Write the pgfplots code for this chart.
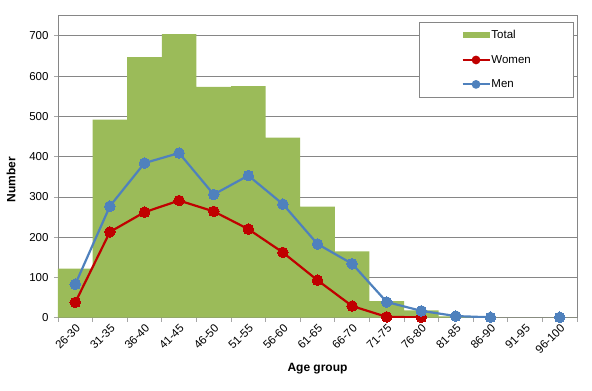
\documentclass[border=0pt]{standalone}
\usepackage{fontspec}
\setmainfont{Liberation Sans}
\usepackage{pgfplots}
\pgfplotsset{compat=1.18}
\definecolor{cgreen}{HTML}{9BBB59}
\definecolor{cred}{HTML}{C00000}
\definecolor{cblue}{HTML}{4F81BD}
\definecolor{cgrid}{HTML}{868686}
\definecolor{caxis}{HTML}{A6A6A6}
\pgfplotsset{
  barlegend/.style={legend image code/.code={\fill[cgreen] (0pt,-3pt) rectangle (27pt,3pt);}},
  linelegend/.style={legend image code/.code={\draw[##1, line width=1.8pt] (0pt,0pt) -- (27pt,0pt); \fill[##1] (13.5pt,0pt) circle (3.2pt);}},
}
\begin{document}
\begin{tikzpicture}
\begin{axis}[
  at={(0,0)}, anchor=south west,
  scale only axis, width=519pt, height=302pt,
  xmin=-0.5, xmax=14.5, ymin=0, ymax=750,
  ytick={0,100,...,700},
  xtick={0,...,14},
  xticklabels={26-30,31-35,36-40,41-45,46-50,51-55,56-60,61-65,66-70,71-75,76-80,81-85,86-90,91-95,96-100},
  minor xtick={-0.5,0.5,...,14.5},
  major x tick style={draw=none},
  minor x tick style={draw=caxis, line width=0.8pt},
  major y tick style={draw=caxis, line width=0.8pt},
  tick align=outside, tick pos=left,
  major tick length=4pt, minor tick length=4pt,
  ymajorgrids, grid style={draw=cgrid, line width=0.8pt},
  axis line style={draw=cgrid, line width=0.8pt},
  /pgf/number format/assume math mode=true,
  tick label style={font=\fontsize{11.5}{13}\selectfont},
  xticklabel style={rotate=45, anchor=north east, inner sep=1pt},
  yticklabel style={xshift=-2pt},
  xlabel={\textbf{Age group}}, ylabel={\textbf{Number}},
  label style={font=\fontsize{12}{14}\selectfont},
  xlabel style={at={(axis description cs:0.5,-0.170)}, anchor=center},
  ylabel style={at={(axis description cs:-0.0906,0.456)}, anchor=center},
  unbounded coords=jump,
  legend style={at={(0.696,0.979)}, anchor=north west, draw=cgrid, line width=0.8pt,
    font=\fontsize{11.5}{13}\selectfont, inner xsep=42pt, inner ysep=7pt,
    row sep=13pt, nodes={inner sep=1pt}},
  legend cell align=left,
]
\addplot[ybar, bar width=1, bar shift=0pt, fill=cgreen, draw=none, barlegend]
  coordinates {(0,122) (1,492) (2,647) (3,704) (4,573) (5,575) (6,447) (7,276) (8,165) (9,41) (10,18) (11,3) (12,0) (13,0) (14,0)};
\addlegendentry{Total}
\addplot[cred, line width=2.2pt, mark=*, mark size=5.3pt, mark options={fill=cred, draw=cred, line width=0pt}, linelegend]
  coordinates {(0,38) (1,213) (2,262) (3,291) (4,264) (5,220) (6,162) (7,93) (8,29) (9,2) (10,1)};
\addlegendentry{Women}
\addplot[cblue, line width=2.2pt, mark=*, mark size=5.3pt, mark options={fill=cblue, draw=cblue, line width=0pt}, linelegend]
  coordinates {(0,83) (1,277) (2,384) (3,409) (4,306) (5,353) (6,282) (7,183) (8,134) (9,39) (10,17) (11,4) (12,1) (13,nan) (14,1)};
\addlegendentry{Men}
\end{axis}
\pgfresetboundingbox
\path (-58pt,-73.3pt) rectangle (534pt,317.7pt);
\end{tikzpicture}
\end{document}
